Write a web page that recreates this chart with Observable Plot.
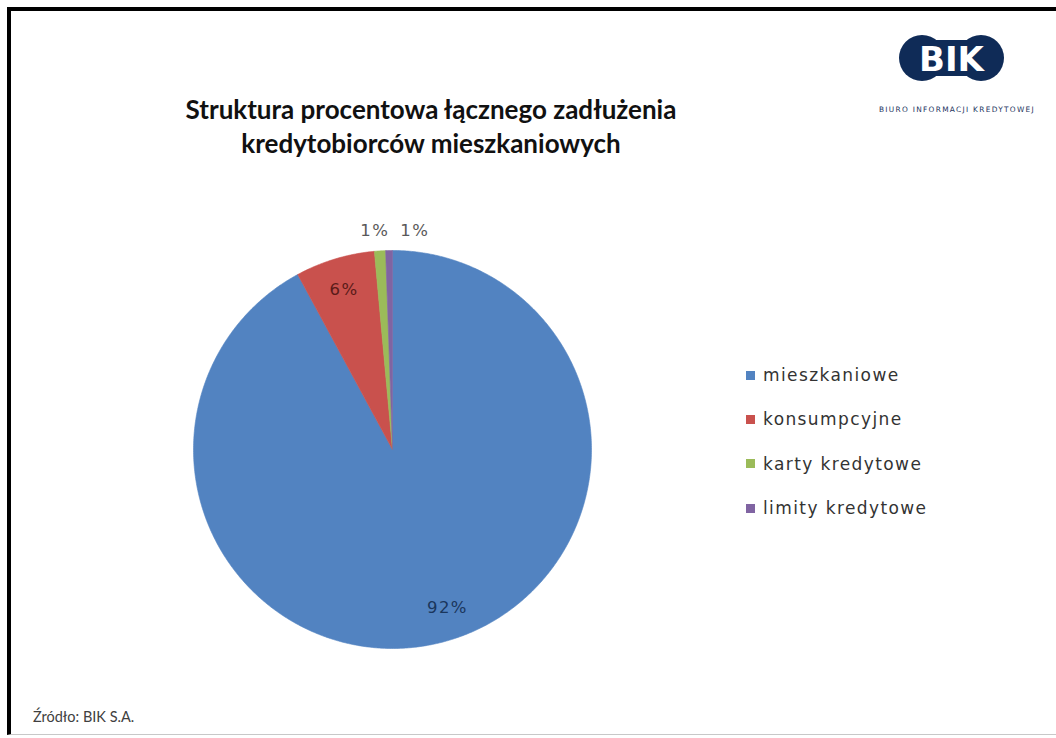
<!DOCTYPE html>
<html>
<head>
<meta charset="utf-8">
<script src="https://cdn.jsdelivr.net/npm/d3@7"></script>
<script src="https://cdn.jsdelivr.net/npm/@observablehq/plot@0.6"></script>
<style>
  html, body { margin: 0; padding: 0; background: #fff; }
  body { width: 1056px; height: 738px; position: relative; overflow: hidden; }
  #frame { position: absolute; left: 7px; top: 7px; width: 1049px; height: 728px;
           border-left: 4px solid #000; border-top: 4px solid #000; border-bottom: 1px solid #c8c8c8; box-sizing: border-box; }
  #title { position: absolute; left: 131px; top: 92px; width: 600px; text-align: center;
           font-family: Lato, "Open Sans", sans-serif; font-weight: bold; font-size: 26px; line-height: 34px; color: #111; }
  #chart { position: absolute; left: 171.5px; top: 208.5px; }
  #legend { position: absolute; left: 746px; top: 353px; font-family: "DejaVu Sans", sans-serif;
            font-size: 17px; letter-spacing: 1.4px; color: #333; }
  .row { display: flex; align-items: center; height: 44.3px; }
  .sw { width: 9px; height: 9px; margin-right: 8px; }
  #source { position: absolute; left: 33px; top: 708px; font-family: Lato, sans-serif; font-size: 14.5px; color: #404040; }
  #logo { position: absolute; left: 860px; top: 28px; }
</style>
</head>
<body>
<div id="frame"></div>
<div id="title">Struktura procentowa łącznego zadłużenia<br>kredytobiorców mieszkaniowych</div>
<div id="chart"></div>
<div id="legend"></div>
<div id="source">Źródło: BIK S.A.</div>
<svg id="logo" width="196" height="92" viewBox="860 28 196 92">
  <circle cx="922" cy="58" r="23" fill="#0f2b57"/>
  <circle cx="981" cy="58" r="23" fill="#0f2b57"/>
  <rect x="922" y="40" width="59" height="36" fill="#0f2b57"/>
  <text x="951.5" y="70.5" text-anchor="middle" font-family="DejaVu Sans" font-weight="bold" font-size="34" fill="#fff">BIK</text>
  <text x="957" y="112" text-anchor="middle" font-family="DejaVu Sans" font-size="7.4" letter-spacing="1.3" fill="#1d3560">BIURO INFORMACJI KREDYTOWEJ</text>
</svg>
<script>
// ---- data ----
const categories = ["mieszkaniowe", "konsumpcyjne", "karty kredytowe", "limity kredytowe"];
const shares = [92.1, 6.45, 0.9, 0.55];
const sliceColors = ["#5283C1", "#C9514D", "#9BBB59", "#8064A2"];
const labelColors = ["#1A365C", "#5A1B19", "#595959", "#595959"];

const rows = categories.map((name, i) => ({name, value: shares[i], color: sliceColors[i], labelColor: labelColors[i]}));

const R = 0.995;
const arcs = d3.pie().sort(null).value(d => d.value).startAngle(0).endAngle(2 * Math.PI)(rows);

// slice polygons (angles clockwise from 12 o'clock)
const polys = [];
arcs.forEach(a => {
  const name = a.data.name, color = a.data.color;
  const n = Math.max(2, Math.ceil((a.endAngle - a.startAngle) / (Math.PI / 360)));
  polys.push({name, color, x: 0, y: 0});
  for (let i = 0; i <= n; i++) {
    const t = a.startAngle + (a.endAngle - a.startAngle) * i / n;
    polys.push({name, color, x: R * Math.sin(t), y: R * Math.cos(t)});
  }
  polys.push({name, color, x: 0, y: 0});
});

// data labels (largest slice label sits further along, as in best-fit placement)
const labels = arcs.map(a => {
  const inside = a.data.value >= 5;
  const mid = inside && a.data.value > 50 ? a.startAngle + (a.endAngle - a.startAngle) * 0.485 : (a.startAngle + a.endAngle) / 2;
  const r = inside ? 0.84 * R : 1.1 * R;
  return {text: Math.round(a.data.value) + "%", x: r * Math.sin(mid), y: r * Math.cos(mid), inside, color: a.data.labelColor};
});
// spread outside labels horizontally so they don't overlap
const outside = labels.filter(d => !d.inside).sort((a, b) => a.x - b.x);
for (let i = 1; i < outside.length; i++) {
  const minGap = 0.2;
  if (outside[i].x - outside[i - 1].x < minGap) outside[i].x = outside[i - 1].x + minGap;
}
outside.forEach(d => d.x -= 0.02);

const chart = Plot.plot({
  width: 440,
  height: 480,
  margin: 0,
  x: {domain: [-1.1, 1.1], axis: null},
  y: {domain: [-1.2, 1.2], axis: null},
  color: {type: "identity"},
  style: {fontFamily: "'DejaVu Sans', sans-serif", letterSpacing: "1.4px", overflow: "visible", background: "transparent"},
  marks: [
    Plot.line(polys, {x: "x", y: "y", z: "name", fill: "color", stroke: "color", strokeWidth: 0.6, curve: "linear"}),
    Plot.text(labels, {x: "x", y: "y", text: "text", fill: "color", fontSize: 16.5})
  ]
});
document.getElementById("chart").appendChild(chart);

// legend
const legend = document.getElementById("legend");
categories.forEach((c, i) => {
  const row = document.createElement("div");
  row.className = "row";
  const sw = document.createElement("div");
  sw.className = "sw";
  sw.style.background = sliceColors[i];
  const t = document.createElement("span");
  t.textContent = c;
  row.appendChild(sw);
  row.appendChild(t);
  legend.appendChild(row);
});
</script>
</body>
</html>
